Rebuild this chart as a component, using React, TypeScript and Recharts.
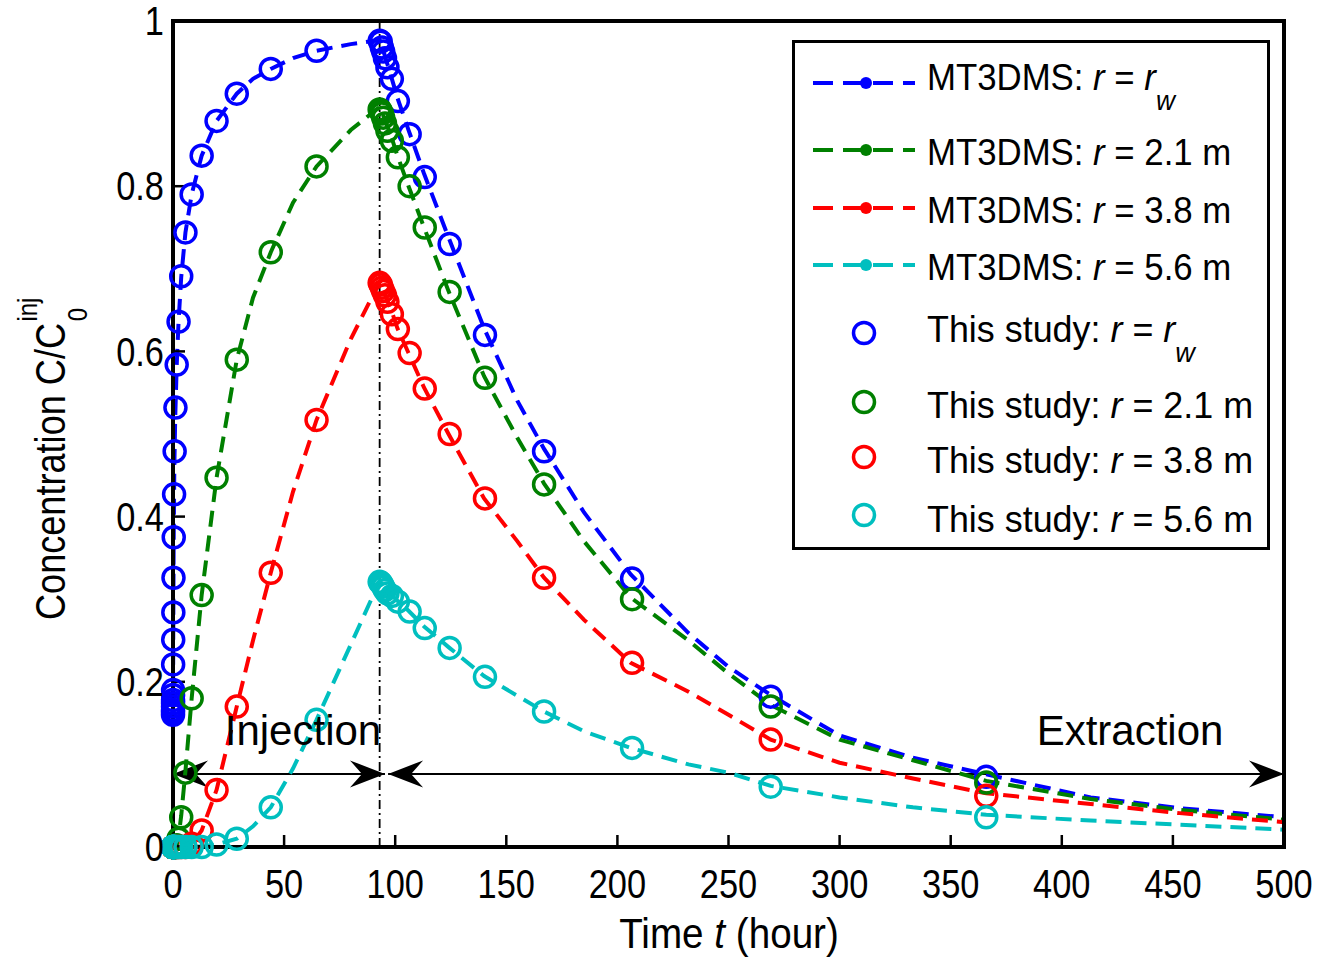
import React from "react";
import {
  ComposedChart,
  Line,
  Scatter,
  XAxis,
  YAxis,
  ReferenceLine,
  ReferenceDot,
  Legend,
} from "recharts";

const FONT = "'Liberation Sans', Arial, sans-serif";

const BLUE = "#0000ff";
const GREEN = "#008000";
const RED = "#ff0000";
const CYAN = "#00bfbf";

const xTicks = [0, 50, 100, 150, 200, 250, 300, 350, 400, 450, 500];
const yTicks = [0, 0.2, 0.4, 0.6, 0.8, 1];

// MT3DMS curves (dashed lines), shared time axis in hours
const mtTimes = [
  0, 0.1, 0.3, 0.6, 1, 1.7, 2.5, 3.7, 5.6, 8.4, 12.9, 19.6, 28.7, 36, 44, 54, 64.6, 80, 93,
  94, 96, 98.5, 101, 106, 113, 124, 140, 155, 167, 185, 206, 232, 250, 269, 300, 333, 366, 413, 453, 500,
];
const mtBlue = [
  0.16, 0.25, 0.37, 0.46, 0.52, 0.585, 0.636, 0.69, 0.744, 0.79, 0.837, 0.879, 0.912, 0.93, 0.942, 0.955, 0.964, 0.972, 0.977,
  0.97, 0.952, 0.93, 0.907, 0.868, 0.815, 0.738, 0.628, 0.54, 0.482, 0.405, 0.33, 0.259, 0.218, 0.184, 0.135, 0.108, 0.088, 0.06, 0.047, 0.036,
];
const mtGreen = [
  0, 0, 0, 0, 0, 0.002, 0.012, 0.038, 0.092, 0.18, 0.305, 0.447, 0.59, 0.665, 0.72, 0.78, 0.824, 0.868, 0.896,
  0.89, 0.876, 0.858, 0.837, 0.8, 0.75, 0.673, 0.57, 0.495, 0.44, 0.37, 0.302, 0.25, 0.21, 0.172, 0.13, 0.105, 0.08, 0.058, 0.045, 0.033,
];
const mtRed = [
  0, 0, 0, 0, 0, 0, 0, 0, 0.001, 0.004, 0.02, 0.069, 0.17, 0.25, 0.332, 0.43, 0.517, 0.615, 0.684,
  0.678, 0.665, 0.648, 0.628, 0.598, 0.556, 0.5, 0.422, 0.37, 0.326, 0.275, 0.223, 0.188, 0.16, 0.13, 0.102, 0.083, 0.065, 0.052, 0.041, 0.03,
];
const mtCyan = [
  0, 0, 0, 0, 0, 0, 0, 0, 0, 0, 0.001, 0.003, 0.01, 0.025, 0.048, 0.095, 0.154, 0.245, 0.322,
  0.318, 0.311, 0.305, 0.298, 0.286, 0.267, 0.242, 0.207, 0.183, 0.164, 0.14, 0.12, 0.1, 0.09, 0.074, 0.06, 0.048, 0.039, 0.032, 0.027, 0.021,
];

// This study (open circles)
const studyTimes = [
  0.005, 0.01, 0.015, 0.02, 0.025, 0.03, 0.037, 0.044, 0.066, 0.1, 0.15, 0.22, 0.33, 0.49, 0.74, 1.1, 1.66, 2.5, 3.7, 5.6, 8.4,
  12.9, 19.6, 28.7, 44, 64.6, 93,
  93.5, 94, 94.6, 95.4, 96.5, 98.5, 101.2, 106.5, 113.3, 124.5, 140.4, 167, 206.6, 269, 366,
];
const studyBlue = [
  0.16, 0.163, 0.166, 0.17, 0.174, 0.178, 0.184, 0.19, 0.221, 0.251, 0.284, 0.326, 0.375, 0.427, 0.479, 0.532, 0.584, 0.636, 0.691, 0.744, 0.79,
  0.837, 0.879, 0.912, 0.942, 0.964, 0.976,
  0.975, 0.968, 0.963, 0.955, 0.944, 0.93, 0.903, 0.863, 0.811, 0.73, 0.62, 0.479, 0.325, 0.182, 0.085,
];
const studyGreen = [
  0, 0, 0, 0, 0, 0, 0, 0, 0, 0, 0, 0, 0, 0, 0, 0, 0.002, 0.01, 0.036, 0.09, 0.18,
  0.305, 0.447, 0.59, 0.72, 0.824, 0.893,
  0.891, 0.888, 0.883, 0.876, 0.867, 0.855, 0.835, 0.8, 0.75, 0.672, 0.568, 0.439, 0.3, 0.17, 0.078,
];
const studyRed = [
  0, 0, 0, 0, 0, 0, 0, 0, 0, 0, 0, 0, 0, 0, 0, 0, 0, 0, 0, 0, 0.004,
  0.02, 0.069, 0.17, 0.332, 0.517, 0.683,
  0.681, 0.677, 0.673, 0.668, 0.66, 0.645, 0.627, 0.598, 0.555, 0.5, 0.422, 0.326, 0.223, 0.13, 0.062,
];
const studyCyan = [
  0, 0, 0, 0, 0, 0, 0, 0, 0, 0, 0, 0, 0, 0, 0, 0, 0, 0, 0, 0, 0,
  0, 0.003, 0.01, 0.048, 0.154, 0.321,
  0.32, 0.318, 0.315, 0.311, 0.307, 0.304, 0.297, 0.285, 0.265, 0.241, 0.206, 0.164, 0.12, 0.073, 0.036,
];

const radii = ["w", "2.1 m", "3.8 m", "5.6 m"];
const colors = [BLUE, GREEN, RED, CYAN];

const injectionEnd = 93;
const arrowLevel = 0.0885;
const arrowSpans: [number, number][] = [
  [0, 95.4],
  [96.8, 500],
];
const notes = [
  { t: 58.5, c: 0.142, text: "Injection" },
  { t: 430.7, c: 0.142, text: "Extraction" },
];

const toPoints = (ts: number[], cs: number[]) => ts.map((t, i) => ({ t, c: cs[i] }));

const lines = [mtBlue, mtGreen, mtRed, mtCyan].map((v, i) => ({ data: toPoints(mtTimes, v), color: colors[i] }));
const studies = [studyBlue, studyGreen, studyRed, studyCyan].map((v, i) => ({
  data: toPoints(studyTimes, v),
  color: colors[i],
}));

function Arrow(props: any) {
  const { x1, y1, x2 } = props;
  const L = 35;
  const W = 13.5;
  const N = 12;
  const head = (tx: number, dir: number) => {
    const bx = tx - dir * L;
    const nx = tx - dir * (L - N);
    return `${tx},${y1} ${bx},${y1 - W} ${nx},${y1} ${bx},${y1 + W}`;
  };
  return (
    <g>
      <line x1={x1} y1={y1} x2={x2} y2={y1} stroke="#000" strokeWidth={2} />
      <polygon points={head(x1, -1)} fill="#000" />
      <polygon points={head(x2, 1)} fill="#000" />
    </g>
  );
}

// narrow-looking text: Liberation Sans squeezed horizontally
const squeeze = (x: number, y: number, k: number) => `translate(${x},${y}) scale(${k},1)`;

function XTick(props: any) {
  const { x, y, payload } = props;
  return (
    <g transform={squeeze(x, y, 0.86)}>
      <text x={0} y={0} dy="0.71em" textAnchor="middle" fontFamily={FONT} fontSize={40} fill="#000">
        {payload.value}
      </text>
    </g>
  );
}

function YTick(props: any) {
  const { x, y, payload } = props;
  return (
    <g transform={squeeze(x, y, 0.86)}>
      <text x={0} y={0} dy="0.355em" textAnchor="end" fontFamily={FONT} fontSize={40} fill="#000">
        {payload.value}
      </text>
    </g>
  );
}

function YTitle() {
  return (
    <g transform="translate(65,620) rotate(-90) scale(0.86,1)">
      <text x={0} y={0} fontFamily={FONT} fontSize={42} fill="#000">
        Concentration C/C
        <tspan fontSize={28} dy={22} dx={2}>0</tspan>
        <tspan fontSize={28} dy={-50} dx={-16}>inj</tspan>
      </text>
    </g>
  );
}

function XTitle() {
  return (
    <g transform={squeeze(729, 948, 0.92)}>
      <text x={0} y={0} textAnchor="middle" fontFamily={FONT} fontSize={42} fill="#000">
        Time <tspan fontStyle="italic">t</tspan> (hour)
      </text>
    </g>
  );
}

function Ring({ cx, cy, color }: { cx: number; cy: number; color: string }) {
  return <circle cx={cx} cy={cy} r={10.5} fill="none" stroke={color} strokeWidth={3.5} />;
}

function LegendLabel({ x, y, head, radius, k }: { x: number; y: number; head: string; radius: string; k: number }) {
  return (
    <g transform={squeeze(x, y, k)}>
      <text x={0} y={0} fontFamily={FONT} fontSize={37} fill="#000">
        {head}
        <tspan fontStyle="italic">r</tspan>
        {" = "}
        {radius === "w" ? (
          <>
            <tspan fontStyle="italic">r</tspan>
            <tspan fontStyle="italic" fontSize={28} dy={20}>w</tspan>
          </>
        ) : (
          radius
        )}
      </text>
    </g>
  );
}

function LegendBox() {
  const lineY = [43, 110, 168, 225];
  const lineBase = [50, 125, 183, 240];
  const ringY = [293, 362, 417, 475];
  const ringBase = [302, 378, 433, 492];
  return (
    <svg width={478} height={511} style={{ display: "block" }}>
      <rect x={1.5} y={1.5} width={475} height={507} fill="#fff" stroke="#000" strokeWidth={3} />
      {colors.map((c, i) => (
        <g key={"l" + i}>
          <line x1={21} y1={lineY[i]} x2={123} y2={lineY[i]} stroke={c} strokeWidth={4} strokeDasharray="20 10" />
          <circle cx={74} cy={lineY[i]} r={6} fill={c} />
          <LegendLabel x={135} y={lineBase[i]} head="MT3DMS: " radius={radii[i]} k={0.94} />
        </g>
      ))}
      {colors.map((c, i) => (
        <g key={"s" + i}>
          <Ring cx={72} cy={ringY[i]} color={c} />
          <LegendLabel x={135} y={ringBase[i]} head="This study: " radius={radii[i]} k={0.97} />
        </g>
      ))}
    </svg>
  );
}

const boxLine = { stroke: "#000", strokeWidth: 4, strokeLinecap: "square" as const };
const innerTick = { stroke: "#000", strokeWidth: 2.5 };

export default function App() {
  return (
    <div style={{ position: "absolute", left: 0, top: 0, background: "#fff" }}>
      <ComposedChart width={1330} height={959} margin={{ top: 20, right: 45, bottom: 111, left: 172 }}>
        <XAxis
          dataKey="t"
          type="number"
          domain={[0, 500]}
          ticks={xTicks}
          interval={0}
          height={1}
          tickSize={-12}
          tickMargin={35}
          tickLine={innerTick}
          axisLine={boxLine}
          tick={(p: any) => <XTick {...p} />}
          label={<XTitle />}
        />
        <XAxis
          xAxisId="top"
          orientation="top"
          type="number"
          domain={[0, 500]}
          ticks={xTicks}
          interval={0}
          allowDataOverflow
          height={1}
          tick={false}
          tickSize={-12}
          tickLine={innerTick}
          axisLine={boxLine}
        />
        <YAxis
          dataKey="c"
          type="number"
          domain={[0, 1]}
          ticks={yTicks}
          interval={0}
          width={1}
          tickSize={-12}
          tickMargin={21}
          tickLine={innerTick}
          axisLine={boxLine}
          tick={(p: any) => <YTick {...p} />}
          label={<YTitle />}
        />
        <YAxis
          yAxisId="right"
          orientation="right"
          type="number"
          domain={[0, 1]}
          ticks={yTicks}
          interval={0}
          allowDataOverflow
          width={1}
          tick={false}
          tickSize={-12}
          tickLine={innerTick}
          axisLine={boxLine}
        />

        <ReferenceLine x={injectionEnd} stroke="#000" strokeWidth={1.8} strokeDasharray="9 4 2 4" />
        {arrowSpans.map(([a, b], i) => (
          <ReferenceLine
            key={"a" + i}
            segment={[
              { x: a, y: arrowLevel },
              { x: b, y: arrowLevel },
            ]}
            shape={(p: any) => <Arrow {...p} />}
          />
        ))}
        {notes.map((n) => (
          <ReferenceDot
            key={n.text}
            x={n.t}
            y={n.c}
            r={0}
            fill="none"
            stroke="none"
            label={{ value: n.text, position: "center", fontSize: 42, fill: "#000", fontFamily: FONT }}
          />
        ))}

        {lines.map((s, i) => (
          <Line
            key={"mt" + i}
            data={s.data}
            dataKey="c"
            type="linear"
            stroke={s.color}
            strokeWidth={4}
            strokeDasharray="16 9"
            dot={false}
            activeDot={false}
            isAnimationActive={false}
          />
        ))}
        {studies.map((s, i) => (
          <Scatter
            key={"st" + i}
            data={s.data}
            dataKey="c"
            isAnimationActive={false}
            shape={(p: any) => <Ring cx={p.cx} cy={p.cy} color={s.color} />}
          />
        ))}

        <Legend
          layout="horizontal"
          verticalAlign="middle"
          align="center"
          wrapperStyle={{ position: "absolute", left: 792, top: 40, width: 478, height: 511 }}
          content={() => <LegendBox />}
        />
      </ComposedChart>
    </div>
  );
}
